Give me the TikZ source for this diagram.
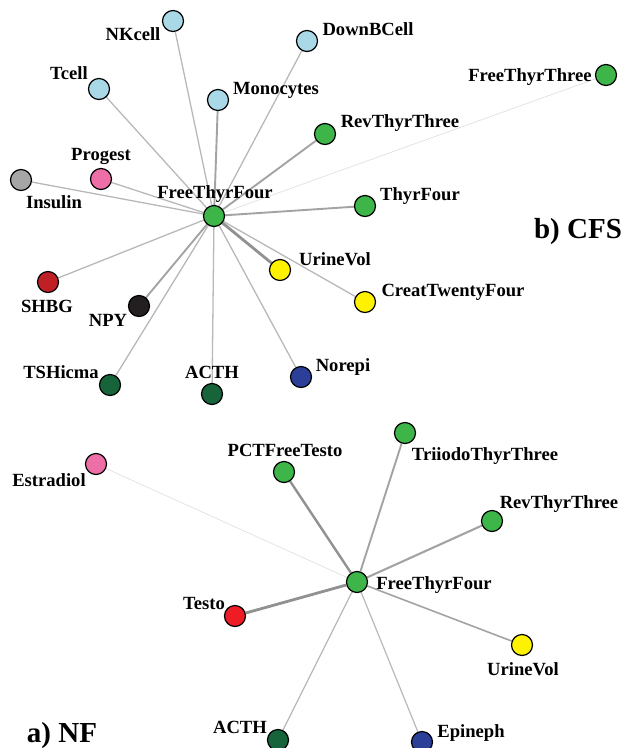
\documentclass[tikz,border=0pt]{standalone}
\usepackage{fontspec}
\setmainfont{Liberation Serif}
\usetikzlibrary{backgrounds}
\definecolor{lblue}{HTML}{A9D8E6}
\definecolor{cgreen}{HTML}{3DB549}
\definecolor{cpink}{HTML}{EE6EA7}
\definecolor{cgray}{HTML}{A6A6A6}
\definecolor{cred}{HTML}{BE2026}
\definecolor{cbred}{HTML}{EE1C24}
\definecolor{cblack}{HTML}{231F20}
\definecolor{cdgreen}{HTML}{17633A}
\definecolor{cblue}{HTML}{2B3F99}
\definecolor{cyellow}{HTML}{FFF200}
\begin{document}
\begin{tikzpicture}[x=1pt,y=-1pt,
  vtx/.style={circle,draw=black,line width=1.2pt,minimum size=21pt,inner sep=0pt},
  lbl/.style={font=\bfseries\fontsize{18.6}{20}\selectfont,inner sep=0pt,text height=12.3pt,text depth=0pt},
  ttl/.style={font=\bfseries\fontsize{29}{32}\selectfont,inner sep=0pt,text height=19pt,text depth=0pt},
  ed/.style={draw=black!28,line width=1.3pt},
  edm/.style={draw=black!36,line width=1.9pt},
  edt/.style={draw=black!43,line width=2.8pt},
  edf/.style={draw=black!12,line width=0.7pt}]
\useasboundingbox (0,0) rectangle (625,748);
% ---------- b) CFS ----------
\node[vtx,fill=cgreen] (cF4) at (214,216) {};
\node[vtx,fill=lblue] (cNK) at (173,21) {};
\node[vtx,fill=lblue] (cDB) at (307,41) {};
\node[vtx,fill=lblue] (cT) at (99,89) {};
\node[vtx,fill=lblue] (cMo) at (218,100) {};
\node[vtx,fill=cgreen] (cRev) at (325,134) {};
\node[vtx,fill=cgreen] (cF3) at (606,75) {};
\node[vtx,fill=cgreen] (cT4) at (365,206) {};
\node[vtx,fill=cpink] (cPr) at (101,179) {};
\node[vtx,fill=cgray] (cIn) at (21,180) {};
\node[vtx,fill=cred] (cSH) at (48,282) {};
\node[vtx,fill=cblack] (cNPY) at (139,306) {};
\node[vtx,fill=cdgreen] (cTSH) at (110,385) {};
\node[vtx,fill=cdgreen] (cAC) at (212,394) {};
\node[vtx,fill=cblue] (cNo) at (301,377) {};
\node[vtx,fill=cyellow] (cUV) at (280,270) {};
\node[vtx,fill=cyellow] (cCr) at (365,302) {};
% ---------- a) NF ----------
\node[vtx,fill=cgreen] (nF4) at (357,582) {};
\node[vtx,fill=cpink] (nEs) at (96,464) {};
\node[vtx,fill=cgreen] (nPCT) at (284,472) {};
\node[vtx,fill=cgreen] (nTri) at (405,433) {};
\node[vtx,fill=cgreen] (nRev) at (492,521) {};
\node[vtx,fill=cbred] (nTe) at (235,616) {};
\node[vtx,fill=cyellow] (nUV) at (522,645) {};
\node[vtx,fill=cdgreen] (nAC) at (278,740) {};
\node[vtx,fill=cblue] (nEp) at (422,742) {};
% edges
\begin{scope}[on background layer]
\path[edf] (cF4) -- (cF3);
\path[ed] (cF4) -- (cNK);
\path[ed] (cF4) -- (cDB);
\path[ed] (cF4) -- (cT);
\path[edm] (cF4) -- (cMo);
\path[edm] (cF4) -- (cRev);
\path[edm] (cF4) -- (cT4);
\path[ed] (cF4) -- (cPr);
\path[ed] (cF4) -- (cIn);
\path[ed] (cF4) -- (cSH);
\path[edm] (cF4) -- (cNPY);
\path[ed] (cF4) -- (cTSH);
\path[ed] (cF4) -- (cAC);
\path[ed] (cF4) -- (cNo);
\path[edt] (cF4) -- (cUV);
\path[ed] (cF4) -- (cCr);
\path[edf] (nF4) -- (nEs);
\path[edt,line width=2.4pt] (nF4) -- (nPCT);
\path[edm] (nF4) -- (nTri);
\path[edm,line width=2.1pt] (nF4) -- (nRev);
\path[edt] (nF4) -- (nTe);
\path[edm,line width=1.6pt] (nF4) -- (nUV);
\path[ed,line width=1.2pt] (nF4) -- (nAC);
\path[ed,line width=1.2pt] (nF4) -- (nEp);
\end{scope}
% labels b)
\node[lbl] (lNK) at (133,34) {NKcell};
\node[lbl] (lT) at (69,73) {Tcell};
\node[lbl] (lMo) at (276,88) {Monocytes};
\node[lbl] (lDB) at (368,29) {DownBCell};
\node[lbl] (lF3) at (530,75) {FreeThyrThree};
\node[lbl] (lRev) at (400,121) {RevThyrThree};
\node[lbl] (lT4) at (420,194) {ThyrFour};
\node[lbl] (lPr) at (101,154) {Progest};
\node[lbl] (lIn) at (54,202) {Insulin};
\node[lbl] (lF4) at (215,192) {FreeThyrFour};
\node[lbl] (lSH) at (47,306) {SHBG};
\node[lbl] (lNPY) at (108,320) {NPY};
\node[lbl] (lTSH) at (61,372) {TSHicma};
\node[lbl] (lAC) at (212,372) {ACTH};
\node[lbl] (lNo) at (343,365) {Norepi};
\node[lbl] (lUV) at (335,259) {UrineVol};
\node[lbl] (lCr) at (453,290) {CreatTwentyFour};
\node[ttl] (tB) at (578,229) {b) CFS};
% labels a)
\node[lbl] (mEs) at (49,480) {Estradiol};
\node[lbl] (mPCT) at (285,450) {PCTFreeTesto};
\node[lbl] (mTri) at (485,454) {TriiodoThyrThree};
\node[lbl] (mRev) at (559,502) {RevThyrThree};
\node[lbl] (mF4) at (434,583) {FreeThyrFour};
\node[lbl] (mTe) at (204,603) {Testo};
\node[lbl] (mUV) at (523,669) {UrineVol};
\node[lbl] (mAC) at (240,727) {ACTH};
\node[lbl] (mEp) at (471,731) {Epineph};
\node[ttl] (tA) at (62,733) {a) NF};
\end{tikzpicture}
\end{document}
